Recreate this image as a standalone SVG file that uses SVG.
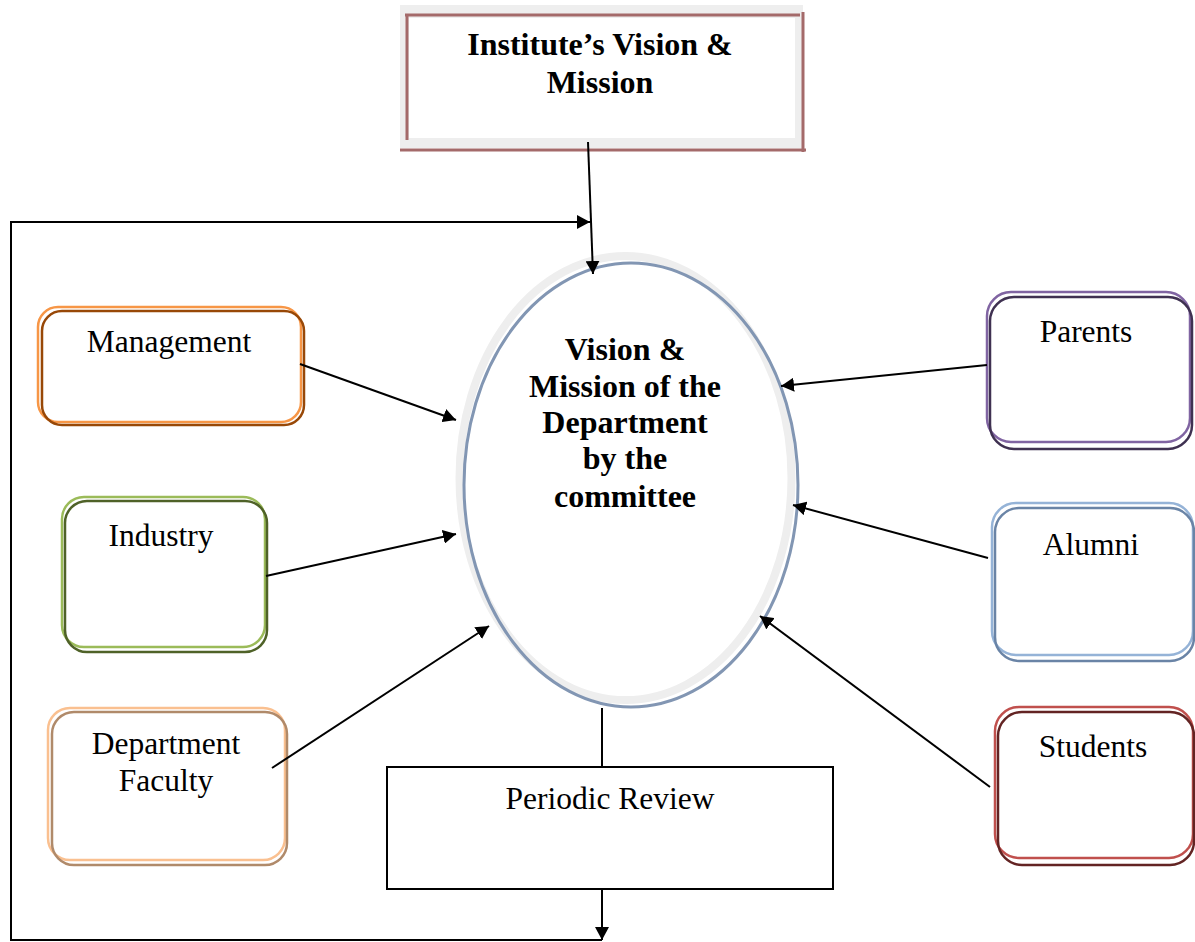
<svg xmlns="http://www.w3.org/2000/svg" width="1195" height="942" viewBox="0 0 1195 942">
  <defs>
    <marker id="arr" viewBox="0 0 13 14" refX="13" refY="7" markerWidth="13" markerHeight="14" markerUnits="userSpaceOnUse" orient="auto">
      <path d="M0,0 L13,7 L0,14 z" fill="#000"/>
    </marker>
    <style>
      .bold { font-family: "Liberation Serif", "Times New Roman", serif; font-weight: bold; font-size: 32px; text-anchor: middle; fill: #000; }
      .lbl { font-family: "Liberation Serif", "Times New Roman", serif; font-size: 31.5px; text-anchor: middle; fill: #000; }
      .conn { stroke: #000; stroke-width: 2; fill: none; }
      .box { fill: #fff; stroke-width: 2.5; }
      .shadow { fill: none; stroke-width: 2.5; }
      .frame { stroke: #a46a6a; stroke-width: 3; }
    </style>
  </defs>
  <rect width="1195" height="942" fill="#fff"/>

  <g id="institute">
    <rect x="400" y="5" width="403" height="143" fill="#eeeeee"/>
    <rect x="409" y="18" width="386" height="120" fill="#fff"/>
    <line class="frame" x1="405" y1="15" x2="800" y2="15"/>
    <line class="frame" x1="407" y1="15" x2="407" y2="140"/>
    <line class="frame" x1="803" y1="12" x2="803" y2="152"/>
    <line class="frame" x1="400" y1="150" x2="806" y2="150"/>
    <text class="bold" x="600" y="55">Institute’s Vision &amp;</text>
    <text class="bold" x="600" y="93">Mission</text>
  </g>

  <g id="department">
    <ellipse cx="625.5" cy="478" rx="166" ry="222" fill="#fff" stroke="#eeeeee" stroke-width="8"/>
    <ellipse cx="631" cy="485" rx="167" ry="222" fill="none" stroke="#8296b3" stroke-width="3"/>
    <text class="bold" x="625" y="360">Vision &amp;</text>
    <text class="bold" x="625" y="397">Mission of the</text>
    <text class="bold" x="625" y="433">Department</text>
    <text class="bold" x="625" y="469">by the</text>
    <text class="bold" x="625" y="507">committee</text>
  </g>

  <g id="management">
    <rect class="box" x="38" y="307" width="263" height="115" rx="20" stroke="#f79646"/>
    <rect class="shadow" x="42" y="311" width="262" height="114" rx="20" stroke="#984807"/>
    <text class="lbl" x="169" y="352">Management</text>
  </g>

  <g id="industry">
    <rect class="box" x="62" y="497" width="203" height="150" rx="22" stroke="#9bbb59"/>
    <rect class="shadow" x="65" y="501" width="202" height="151" rx="22" stroke="#4f6228"/>
    <text class="lbl" x="161" y="546">Industry</text>
  </g>

  <g id="faculty">
    <rect class="box" x="48" y="708" width="237" height="152" rx="22" stroke="#fac090"/>
    <rect class="shadow" x="52" y="712" width="235" height="153" rx="22" stroke="#b08a6a" stroke-width="2"/>
    <text class="lbl" x="166" y="754">Department</text>
    <text class="lbl" x="166" y="791">Faculty</text>
  </g>

  <g id="parents">
    <rect class="box" x="987" y="292" width="203" height="150" rx="24" stroke="#8064a2"/>
    <rect class="shadow" x="990" y="297" width="202" height="152" rx="24" stroke="#3f3151"/>
    <text class="lbl" x="1086" y="342">Parents</text>
  </g>

  <g id="alumni">
    <rect class="box" x="992" y="503" width="201" height="152" rx="24" stroke="#95b3d7"/>
    <rect class="shadow" x="995" y="508" width="199" height="153" rx="24" stroke="#6a84a6" stroke-width="2"/>
    <text class="lbl" x="1091" y="555">Alumni</text>
  </g>

  <g id="students">
    <rect class="box" x="995" y="707" width="198" height="151" rx="24" stroke="#c0504d"/>
    <rect class="shadow" x="998" y="712" width="196" height="153" rx="24" stroke="#632423"/>
    <text class="lbl" x="1093" y="757">Students</text>
  </g>

  <g id="review">
    <rect x="387" y="767" width="446" height="122" fill="#fff" stroke="#000" stroke-width="2"/>
    <text class="lbl" x="610" y="809">Periodic Review</text>
  </g>

  <g id="connectors">
    <line class="conn" x1="588" y1="142" x2="593" y2="274" marker-end="url(#arr)"/>
    <polyline class="conn" points="602,940 11,940 11,222 590,222" marker-end="url(#arr)"/>
    <line class="conn" x1="602" y1="889" x2="602" y2="940" marker-end="url(#arr)"/>
    <line class="conn" x1="602" y1="708" x2="602" y2="767"/>
    <line class="conn" x1="300" y1="364" x2="456" y2="420" marker-end="url(#arr)"/>
    <line class="conn" x1="266" y1="576" x2="456" y2="534" marker-end="url(#arr)"/>
    <line class="conn" x1="272" y1="768" x2="489" y2="626" marker-end="url(#arr)"/>
    <line class="conn" x1="987" y1="365" x2="781" y2="386" marker-end="url(#arr)"/>
    <line class="conn" x1="988" y1="558" x2="793" y2="505" marker-end="url(#arr)"/>
    <line class="conn" x1="990" y1="787" x2="760" y2="616" marker-end="url(#arr)"/>
  </g>
</svg>
